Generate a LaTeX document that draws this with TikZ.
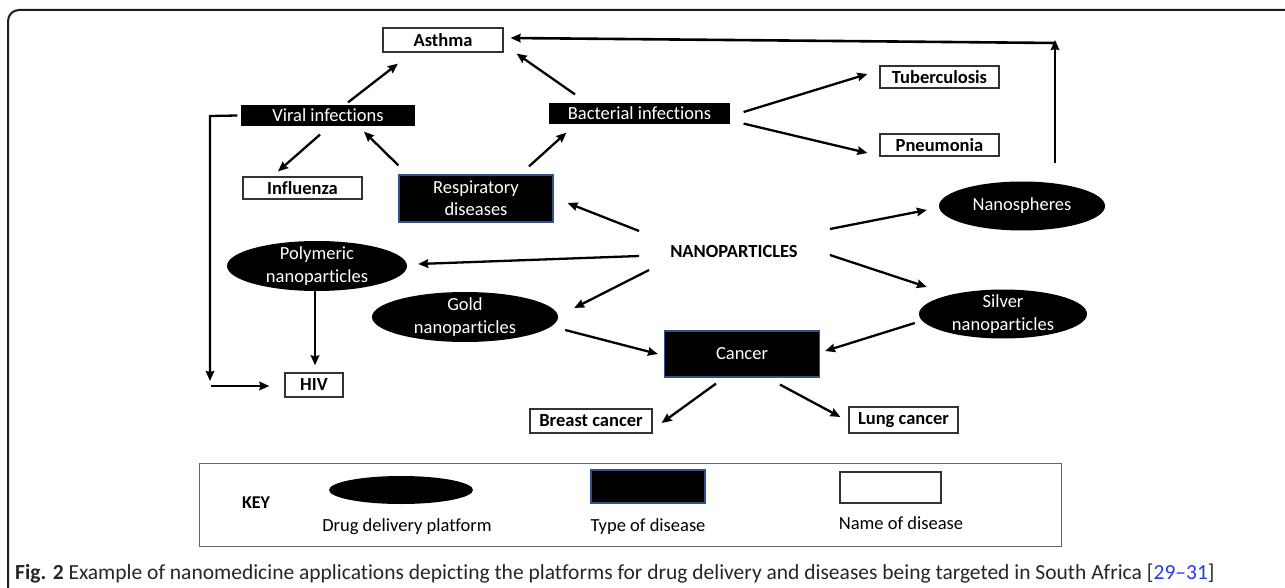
\documentclass[tikz,border=0pt]{standalone}
\usepackage{fontspec}
\setmainfont{Carlito}[Ligatures=NoCommon]
\usetikzlibrary{arrows.meta,shapes.geometric}
\definecolor{edgeblue}{RGB}{50,80,140}
\definecolor{linkblue}{RGB}{40,60,230}
\definecolor{framegray}{RGB}{30,30,30}
\begin{document}
\begin{tikzpicture}[x=1pt,y=-1pt,
  arr/.style={line width=2.3pt,-{Stealth[length=10pt,width=8.5pt,inset=1pt]}},
  namebox/.style={draw=black!80,line width=1.2pt,fill=white,inner sep=0pt,
    font=\fontsize{18.5}{21}\selectfont\bfseries},
  typebox/.style={fill=black,draw=black,line width=1.2pt,inner sep=0pt,text=white,
    align=center,font=\fontsize{18.5}{22}\selectfont},
  typeboxb/.style={typebox,draw=edgeblue},
  plat/.style={ellipse,fill=black,inner sep=0pt},
  wtext/.style={text=white,align=center,font=\fontsize{18.5}{23}\selectfont},
  keytext/.style={font=\fontsize{18.5}{21}\selectfont}
]
\useasboundingbox (0,0) rectangle (1285,588);
\clip (0,0) rectangle (1285,588);
\fill[white] (0,0) rectangle (1285,588);
% frame
\draw[framegray,line width=2pt,rounded corners=11pt] (8,620) -- (8,10) -- (1320,10);

% disease names
\node[namebox,minimum width=120,minimum height=24] (asthma) at (443,40) {Asthma};
\node[namebox,minimum width=119,minimum height=22] (tb) at (939.5,77) {Tuberculosis};
\node[namebox,minimum width=119,minimum height=22] (pneu) at (939.5,145) {Pneumonia};
\node[namebox,minimum width=119,minimum height=22] (infl) at (302.5,188) {Influenza};
\node[namebox,minimum width=58,minimum height=24] (hiv) at (314,385) {HIV};
\node[namebox,minimum width=122,minimum height=24] (breast) at (591,421) {Breast cancer};
\node[namebox,minimum width=109,minimum height=26] (lung) at (903.5,420) {Lung cancer};

% disease types
\node[typebox,minimum width=172,minimum height=19] (viral) at (328,115.5) {Viral infections};
\node[typebox,minimum width=179,minimum height=19] (bact) at (639.5,113.5) {Bacterial infections};
\node[typeboxb,minimum width=154,minimum height=47] (resp) at (476,198.5) {Respiratory\\diseases};
\node[typeboxb,minimum width=155,minimum height=46] (cancer) at (742,354) {Cancer};

% platforms
\node[plat,minimum width=166,minimum height=49] (nanos) at (1022,206) {};
\node[wtext] at (nanos) {Nanospheres};
\node[plat,minimum width=180,minimum height=50] (poly) at (317,266) {};
\node[wtext] at (poly) {Polymeric\\nanoparticles};
\node[plat,minimum width=186,minimum height=50] (gold) at (465,317) {};
\node[wtext] at (gold) {Gold\\nanoparticles};
\node[plat,minimum width=168,minimum height=49] (silver) at (1003,314) {};
\node[wtext] at (silver) {Silver\\nanoparticles};

\node[font=\fontsize{18.5}{21}\selectfont\bfseries,inner sep=0pt] (nano) at (734,251) {NANOPARTICLES};

% helper coordinates
\coordinate (topR) at (1055,43);
\coordinate (bl) at (210,116);
\coordinate (blb) at (210,381);
\coordinate (hivin) at (211,386);

% connectors
\draw[arr] ([shift={(20,-3)}]viral.north) -- ([shift={(-45,11)}]asthma.south);
\draw[arr] ([shift={(-64.5,-9)}]bact.north) -- ([shift={(13,1)}]asthma.south east);
\draw[arr] ([shift={(-8,9)}]viral.south) -- ([shift={(-24.5,-5)}]infl.north);
\draw[arr] ([shift={(0,-9)}]resp.north west) -- ([shift={(36,6)}]viral.south);
\draw[arr] ([shift={(53,-8)}]resp.north) -- ([shift={(17,9)}]bact.south west);
\draw[arr] ([shift={(14,-1.5)}]bact.east) -- ([shift={(-12,-3)}]tb.west);
\draw[arr] ([shift={(14,0)}]bact.south east) -- ([shift={(-12,8)}]pneu.west);
\draw[arr] ([shift={(-31,-20)}]nano.west) -- ([shift={(14,4.5)}]resp.east);
\draw[arr] ([shift={(-31,5)}]nano.west) -- ([shift={(11,-2)}]poly.east);
\draw[arr] ([shift={(-21,19)}]nano.west) -- ([shift={(16,-9)}]gold.east);
\draw[arr] ([shift={(32,-22)}]nano.east) -- ([shift={(-12,4)}]nanos.west);
\draw[arr] ([shift={(32,4)}]nano.east) -- ([shift={(8,-27)}]silver.west);
\draw[arr] ([shift={(33,-18.5)}]nanos.north) -- ([yshift=3]topR);
\draw[arr,line width=2.6pt] ([xshift=1]topR) -- ([shift={(7,-2)}]asthma.east);
\draw[arr] ([xshift=-4]viral.west) -- (bl) -- (blb);
\draw[arr] (hivin) -- ([shift={(-15,1)}]hiv.west);
\draw[arr] ([xshift=-2]poly.south) -- ([shift={(1,-7)}]hiv.north);
\draw[arr] ([shift={(7,13)}]gold.east) -- ([shift={(-6,0)}]cancer.west);
\draw[arr] ([shift={(-4,9)}]silver.west) -- ([shift={(5,-3)}]cancer.east);
\draw[arr] ([shift={(-26,6)}]cancer.south) -- ([shift={(9,2)}]breast.east);
\draw[arr] ([shift={(38,7)}]cancer.south) -- ([shift={(-8,-3)}]lung.west);

% key
\node[draw=black!60,line width=1pt,minimum width=862,minimum height=83,inner sep=0pt] (key) at (630,504.5) {};
\node[font=\fontsize{18}{20}\selectfont\bfseries,inner sep=0pt] (keyt) at (256,503) {KEY};
\node[plat,minimum width=144,minimum height=28] (kell) at (401,490) {};
\node[keytext,inner sep=0pt] (kl1) at (407,527) {Drug delivery platform};
\node[fill=black,draw=edgeblue,line width=1.2pt,minimum width=114,minimum height=33,inner sep=0pt] (krect) at (648,486.5) {};
\node[keytext,inner sep=0pt] (kl2) at (648,527) {Type of disease};
\node[draw=black!80,line width=1.2pt,fill=white,minimum width=101,minimum height=31,inner sep=0pt] (kwrect) at (890.5,487.5) {};
\node[keytext,inner sep=0pt] (kl3) at (901,523) {Name of disease};

% caption
\node[anchor=west,inner sep=0pt,text=black!85,font=\fontsize{21.5}{25}\selectfont] (cap) at (15,574)
  {\textbf{Fig. 2} Example of nanomedicine applications depicting the platforms for drug delivery and diseases being targeted in South Africa [{\color{linkblue}29–31}]};
\end{tikzpicture}
\end{document}
